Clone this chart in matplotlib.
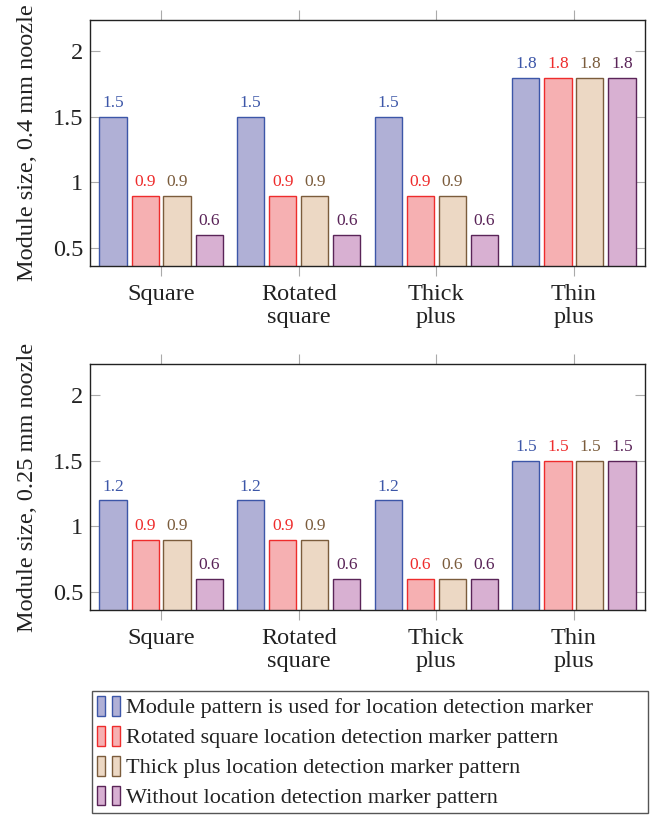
import numpy as np
import matplotlib
matplotlib.use("Agg")
import matplotlib.pyplot as plt
from matplotlib.patches import Rectangle
from matplotlib.legend_handler import HandlerTuple

plt.rcParams['font.family'] = ['Liberation Serif', 'DejaVu Serif']

# Data
categories = ['Square', 'Rotated\nsquare', 'Thick\nplus', 'Thin\nplus']
series_names = [
    'Module pattern is used for location detection marker',
    'Rotated square location detection marker pattern',
    'Thick plus location detection marker pattern',
    'Without location detection marker pattern',
]
nozzle_04 = [
    [1.5, 1.5, 1.5, 1.8],
    [0.9, 0.9, 0.9, 1.8],
    [0.9, 0.9, 0.9, 1.8],
    [0.6, 0.6, 0.6, 1.8],
]
nozzle_025 = [
    [1.2, 1.2, 1.2, 1.5],
    [0.9, 0.9, 0.6, 1.5],
    [0.9, 0.9, 0.6, 1.5],
    [0.6, 0.6, 0.6, 1.5],
]
y_labels = ['Module size, 0.4 mm noozle', 'Module size, 0.25 mm noozle']

# Styles
fills = ['#b0b0d6', '#f6b0b2', '#ecd8c4', '#d8b0d2']
edges = ['#3c56a8', '#ee2c2c', '#7b5c3c', '#5a2458']

W, H = 652, 818
fig = plt.figure(figsize=(W / 100, H / 100), dpi=100)

def make_axes(top_px, bottom_px):
    return fig.add_axes([90 / W, 1 - bottom_px / H, 555 / W, (bottom_px - top_px) / H])

x = np.arange(len(categories))
offsets = [-0.349, -0.116, 0.116, 0.349]
bar_w = 0.197

for ax, data, ylab in zip([make_axes(20, 266), make_axes(364, 610)],
                          [nozzle_04, nozzle_025], y_labels):
    for i, vals in enumerate(data):
        bars = ax.bar(x + offsets[i], vals, width=bar_w, bottom=0,
                      color=fills[i], edgecolor=edges[i], linewidth=1.0, zorder=2)
        for b, v in zip(bars, vals):
            ax.annotate(f'{v:g}', (b.get_x() + b.get_width() / 2, v),
                        xytext=(0, 4), textcoords='offset points',
                        ha='center', va='bottom', fontsize=12.5, color=edges[i])
    ax.set_xlim(-0.516, 3.516)
    ax.set_ylim(0.362, 2.24)
    ax.set_yticks([0.5, 1, 1.5, 2])
    ax.set_yticklabels(['0.5', '1', '1.5', '2'])
    ax.set_xticks(x)
    ax.set_xticklabels(categories, linespacing=1.1)
    ax.tick_params(axis='x', direction='out', length=7.5, color='#aaaaaa',
                   top=True, bottom=True, labelsize=17.5, pad=5.5, labelcolor='#222222')
    ax.tick_params(axis='y', direction='in', length=7.5, color='#aaaaaa',
                   left=True, right=True, labelsize=17.5, pad=5, labelcolor='#222222')
    for s in ax.spines.values():
        s.set_color('#222222')
        s.set_linewidth(1.0)
    ax.set_ylabel(ylab, fontsize=17.5, color='#222222')
    ax.yaxis.set_label_coords(-0.094, 0.5)

handles = []
for f, e in zip(fills, edges):
    handles.append((Rectangle((0, 0), 1, 1, facecolor=f, edgecolor=e, linewidth=1.0),
                    Rectangle((0, 0), 1, 1, facecolor=f, edgecolor=e, linewidth=1.0)))

leg = fig.legend(handles, series_names, loc='upper left',
                 bbox_to_anchor=(92 / W, 1 - 691 / H, 556 / W, 0.0), mode='expand',
                 handler_map={tuple: HandlerTuple(ndivide=None, pad=0.3)},
                 handlelength=1.05, handleheight=1.0, handletextpad=0.25,
                 labelspacing=0.33, borderpad=0.22, borderaxespad=0,
                 fontsize=16, fancybox=False, framealpha=1,
                 edgecolor='#555555', labelcolor='#222222')
leg.get_frame().set_linewidth(1.0)

fig.savefig('out.png', dpi=100)
